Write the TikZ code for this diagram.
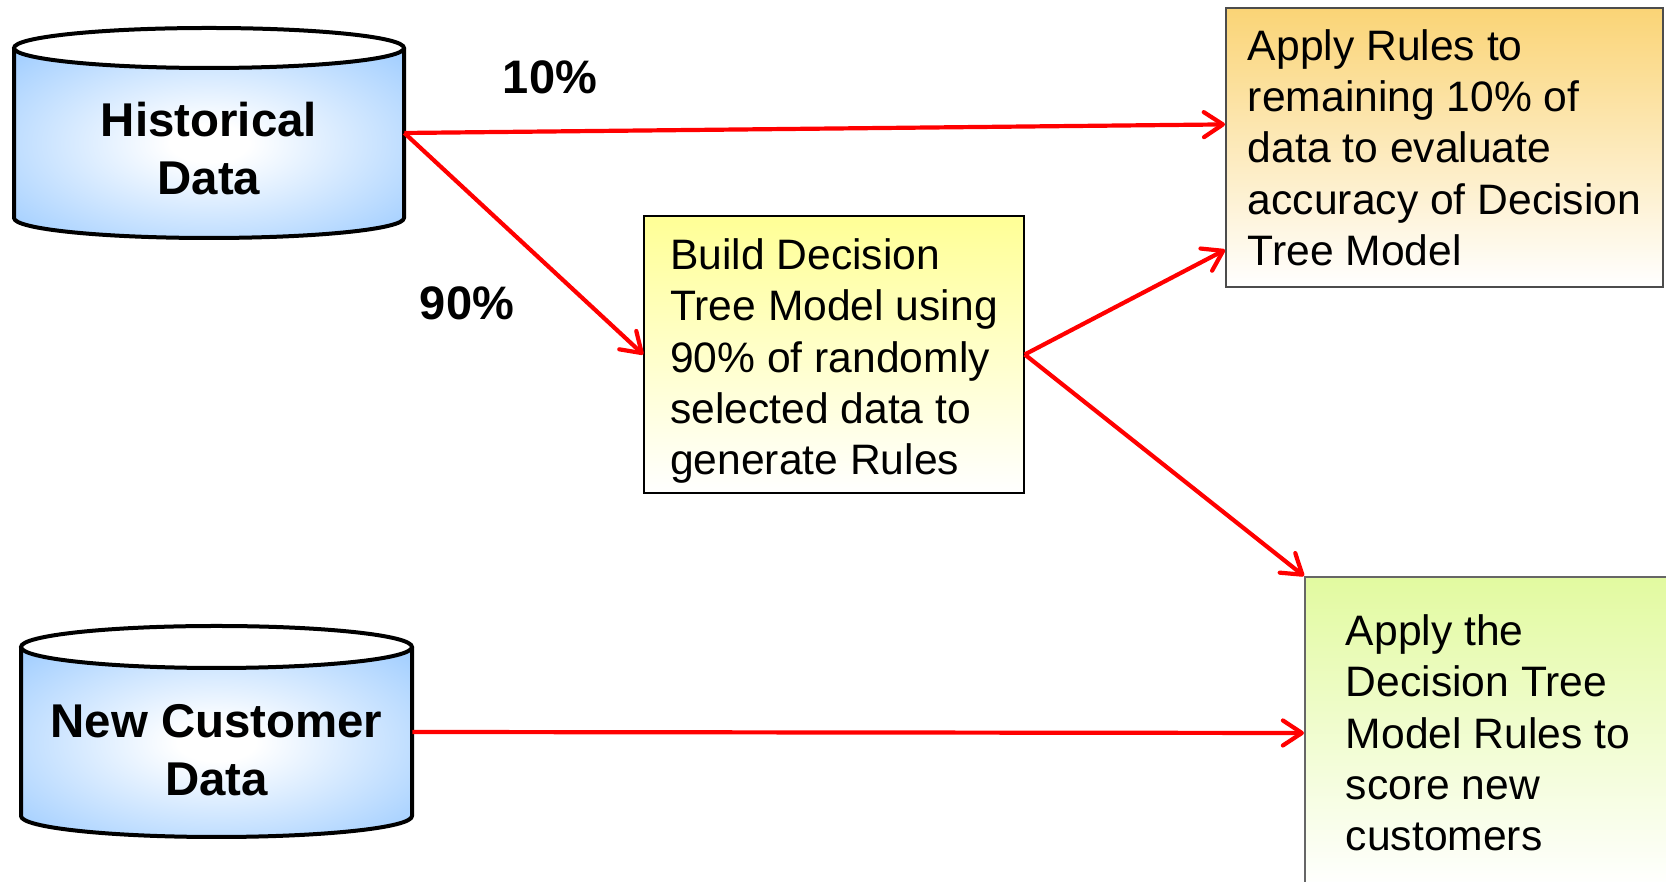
\documentclass[tikz,border=0pt]{standalone}
\usepackage{fontspec}
\setmainfont{Liberation Sans}
\usetikzlibrary{arrows.meta}
\definecolor{drumblue}{RGB}{150,200,255}
\definecolor{buildyellow}{RGB}{255,255,150}
\definecolor{evalorange}{RGB}{250,212,118}
\definecolor{scoregreen}{RGB}{226,250,160}
\definecolor{arrowred}{RGB}{255,0,0}
\pgfdeclareradialshading{drumglow}{\pgfpoint{0bp}{0bp}}{color(0bp)=(white); color(5bp)=(white); color(38bp)=(drumblue); color(50bp)=(drumblue)}
\def\datadrum(#1,#2)(#3:#4:#5){%
	\shade[shading=drumglow] ({#1-#3},{#2+#5}) -- ({#1-#3},{#2-#5}) arc (180:360:#3 and #4) -- ({#1+#3},{#2+#5}) -- cycle;
	\draw[line width=2pt, fill=white] (#1,{#2+#5}) ellipse (#3 and #4);
	\draw[line width=2pt, line join=round] ({#1-#3},{#2+#5}) -- ({#1-#3},{#2-#5}) arc (180:360:#3 and #4) -- ({#1+#3},{#2+#5});}

\begin{document}
\begin{tikzpicture}[x=0.5pt, y=0.5pt,
		drumtext/.style={align=center, inner sep=0pt, font=\bfseries\fontsize{23.7pt}{29pt}\selectfont},
		procbox/.style={draw, align=left, inner sep=0pt, bottom color=white, font=\fontsize{21.3pt}{25.65pt}\selectfont},
		pct/.style={font=\bfseries\fontsize{23.5pt}{28pt}\selectfont},
		flow/.style={draw=arrowred, line width=2.1pt, -{Straight Barb[length=9.5pt, width=12.5pt, round]}}]
			%%%%% START %%%%%
			
			\path[use as bounding box, clip] (0, 0) rectangle (1666, 882);
			
			\datadrum(209, 749)(195:20:85)
			\datadrum(216.5, 150.5)(195.5:21:84.5)
			
			\node[drumtext, minimum width=195pt] (hist) at (209, 733) {Historical\\Data};
			\node[drumtext, minimum width=195.5pt] (newcust) at (216.5, 132) {New Customer\\Data};
			
			\node[procbox, line width=0.75pt, top color=buildyellow, minimum width=190pt, minimum height=138.5pt] (build) at (834, 527.5) {\rule{0pt}{22pt}Build Decision\\Tree Model using\\90\% of randomly\\selected data to\\generate Rules};
			\node[procbox, draw=black!70, line width=1pt, top color=evalorange, minimum width=218.5pt, minimum height=139.5pt] (evalbox) at (1444.5, 734.5) {Apply Rules to\\remaining 10\% of\\data to evaluate\\accuracy of Decision\\Tree Model};
			\node[procbox, draw=black!60, line width=1pt, top color=scoregreen, minimum width=183pt, minimum height=156pt] (scorebox) at (1488, 149) {Apply the\\Decision Tree\\Model Rules to\\score new\\customers};
			
			\node[pct] (tenpct) at (550, 805) {10\%};
			\node[pct] (ninetypct) at (467, 579) {90\%};
			
			\draw[flow] ([yshift=8pt]hist.east) -- (evalbox.174.6);
			\draw[flow] ([yshift=8pt]hist.east) -- (build.west);
			\draw[flow] (build.east) -- (evalbox.205);
			\draw[flow] (build.east) -- (scorebox.north west);
			\draw[flow] ([yshift=9pt]newcust.east) -- (scorebox.west);
			
			%%%%% END %%%%%
		\end{tikzpicture}
\end{document}
